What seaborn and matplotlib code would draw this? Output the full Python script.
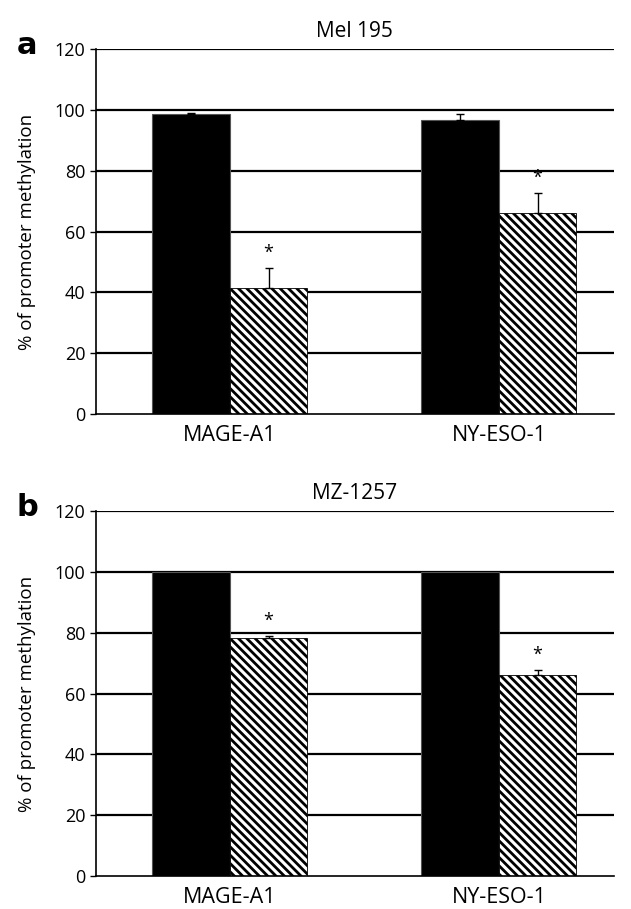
import pandas as pd
import seaborn as sns
import matplotlib.pyplot as plt

# données
genes = ['MAGE-A1', 'NY-ESO-1']
groupes = ['control', 'treated']

mel_ctrl = [98.5, 96.7]
mel_ctrl_err = [0.4, 1.8]
mel_trt = [41.5, 66.0]
mel_trt_err = [6.5, 6.7]

mz_ctrl = [100.0, 100.0]
mz_ctrl_err = [0.0, 0.0]
mz_trt = [78.3, 66.0]
mz_trt_err = [0.5, 1.6]

panels = [
    ('a', 'Mel 195', mel_ctrl, mel_ctrl_err, mel_trt, mel_trt_err),
    ('b', 'MZ-1257', mz_ctrl, mz_ctrl_err, mz_trt, mz_trt_err),
]

sns.set_style('white')
plt.rcParams['font.family'] = ['Open Sans', 'DejaVu Sans']
plt.rcParams['hatch.linewidth'] = 2.0
plt.rcParams['text.color'] = 'black'
plt.rcParams['axes.labelcolor'] = 'black'
plt.rcParams['xtick.color'] = 'black'
plt.rcParams['ytick.color'] = 'black'

fig = plt.figure(figsize=(6.31, 9.09), dpi=100)
positions = [
    [0.152, 0.5446, 0.821, 0.4014],
    [0.152, 0.0363, 0.821, 0.4015],
]

for pos, (lettre, titre, ctrl, ctrl_err, trt, trt_err) in zip(positions, panels):
    ax = fig.add_axes(pos)
    df = pd.DataFrame({
        'gene': genes * 2,
        'groupe': [groupes[0]] * 2 + [groupes[1]] * 2,
        'valeur': ctrl + trt,
        'err': ctrl_err + trt_err,
    })
    for y in range(20, 121, 20):
        ax.axhline(y, color='black', lw=1.6, zorder=0)
    sns.barplot(data=df, x='gene', y='valeur', hue='groupe', order=genes,
                hue_order=groupes, palette=['black', 'white'], width=0.576,
                errorbar=None, edgecolor='#555555', linewidth=0.8, ax=ax,
                legend=False, zorder=2)
    bars = [p for p in ax.patches if p.get_height() > 0]
    for i, p in enumerate(bars):
        g = i // 2
        k = i % 2
        if g == 1:
            p.set_hatch('\\\\\\\\')
            p.set_edgecolor('black')
            p.set_linewidth(0.6)
        row = df[(df['groupe'] == groupes[g]) & (df['gene'] == genes[k])].iloc[0]
        x = p.get_x() + p.get_width() / 2
        if row['err'] > 0:
            ax.errorbar(x, row['valeur'], yerr=[[0], [row['err']]], fmt='none',
                        ecolor='black', elinewidth=1, capsize=3, capthick=1, zorder=3)
        if g == 1:
            ax.text(x, row['valeur'] + row['err'] + 2.0, '*', ha='center',
                    va='bottom', fontsize=13)
    ax.set_xlim(-0.498, 1.428)
    ax.set_ylim(0, 120)
    ax.set_yticks(range(0, 121, 20))
    ax.tick_params(axis='y', labelsize=13, length=4, width=1, direction='out', left=True)
    ax.tick_params(axis='x', labelsize=15.5, length=0, pad=8)
    ax.set_xlabel('')
    ax.set_ylabel('% of promoter methylation', fontsize=13.5)
    ax.yaxis.set_label_coords(-0.115, 0.5)
    ax.set_title(titre, fontsize=15, pad=9)
    sns.despine(ax=ax)
    ax.spines['left'].set_color('black')
    ax.spines['bottom'].set_color('black')
    ax.spines['left'].set_linewidth(1.2)
    ax.spines['bottom'].set_linewidth(1.2)
    ax.text(-0.133, 1.01, lettre, transform=ax.transAxes, fontsize=22,
            fontweight='bold', ha='center', va='center', family='DejaVu Sans')

fig.savefig('out.png', dpi=100)
